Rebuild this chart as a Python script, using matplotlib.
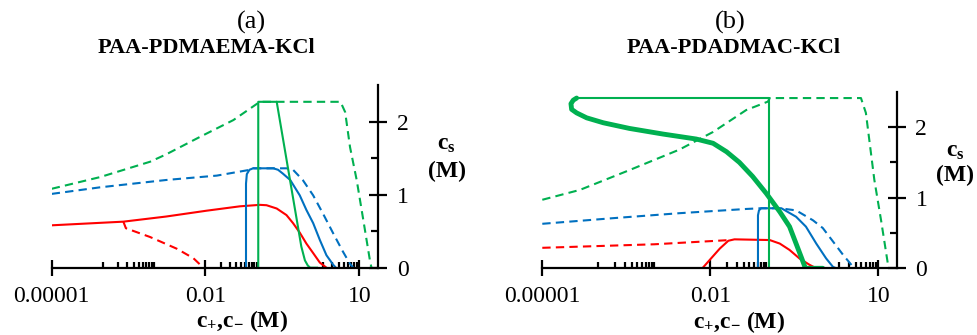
import numpy as np
import matplotlib
matplotlib.use("Agg")
import matplotlib.pyplot as plt
from matplotlib.ticker import FixedLocator, NullFormatter

plt.rcParams['font.family'] = ['Liberation Serif', 'DejaVu Serif']
plt.rcParams['mathtext.fontset'] = 'custom'
plt.rcParams['mathtext.rm'] = 'Liberation Serif'
plt.rcParams['mathtext.bf'] = 'Liberation Serif:bold'
plt.rcParams['mathtext.it'] = 'Liberation Serif:italic'

ROJO = '#FF0000'
AZUL = '#0070C0'
VERDE = '#00B050'

# ---- datos panel (a): PAA-PDMAEMA-KCl ----
a_verde_disc_x = [1e-5, 8.8e-5, 8.3e-4, 1.7e-3, 7.8e-3, 0.035, 0.115, 4.3, 5.3, 6.6, 8.9, 12.0, 16.3, 17.3]
a_verde_disc_y = [1.08, 1.24, 1.45, 1.55, 1.79, 2.02, 2.27, 2.27, 2.13, 1.65, 1.20, 0.65, 0.08, 0.0]

a_verde_x = [0.107, 0.107, 0.245, 0.74, 0.87, 0.99, 1.1, 1.5]
a_verde_y = [0.0, 2.27, 2.27, 0.29, 0.10, 0.03, 0.0, 0.0]

a_azul_disc_x = [1e-5, 8.8e-5, 1.7e-3, 0.0166, 0.074, 0.085, 0.38, 0.51, 0.79, 1.26, 1.96, 3.1, 4.8, 6.5, 7.6]
a_azul_disc_y = [1.01, 1.10, 1.20, 1.26, 1.34, 1.36, 1.36, 1.34, 1.20, 0.99, 0.74, 0.47, 0.22, 0.06, 0.0]

a_azul_x = [0.0617, 0.0617, 0.064, 0.072, 0.085, 0.21, 0.26, 0.32, 0.45, 0.69, 0.93, 1.26, 1.7, 2.29, 3.1, 3.5]
a_azul_y = [0.0, 1.15, 1.28, 1.34, 1.36, 1.36, 1.34, 1.29, 1.20, 0.99, 0.79, 0.61, 0.38, 0.17, 0.04, 0.0]

a_rojo_x = [1e-5, 2.5e-4, 1.7e-3, 0.0105, 0.047, 0.115, 0.155, 0.245, 0.38, 0.51, 0.69, 0.93, 1.26, 1.7, 2.29]
a_rojo_y = [0.58, 0.63, 0.70, 0.78, 0.84, 0.86, 0.855, 0.81, 0.72, 0.61, 0.48, 0.33, 0.20, 0.07, 0.0]

a_rojo_disc_x = [2.5e-4, 2.8e-4, 8.3e-4, 2.75e-3, 5.8e-3, 9.1e-3]
a_rojo_disc_y = [0.63, 0.54, 0.42, 0.26, 0.13, 0.0]

# ---- datos panel (b): PAA-PDADMAC-KCl ----
b_verde_disc_x = [1e-5, 4.7e-5, 3.6e-4, 2.8e-3, 0.0112, 0.0437, 0.107, 0.115, 4.9, 6.0, 8.5, 11.2, 14.9, 15.5]
b_verde_disc_y = [0.97, 1.11, 1.39, 1.68, 1.93, 2.24, 2.36, 2.41, 2.41, 2.20, 1.25, 0.68, 0.05, 0.0]

b_verde_grueso_x = [4.1e-5, 3.57e-5, 3.25e-5, 3.34e-5, 4.1e-5, 6.2e-5, 1.23e-4, 3.6e-4, 1.44e-3, 5.6e-3,
                    0.0112, 0.0195, 0.033, 0.057, 0.1, 0.174, 0.26, 0.34, 0.42, 0.50, 1.02]
b_verde_grueso_y = [2.41, 2.38, 2.33, 2.25, 2.20, 2.13, 2.06, 1.98, 1.90, 1.83,
                    1.77, 1.65, 1.50, 1.30, 1.06, 0.80, 0.59, 0.35, 0.16, 0.0, 0.0]

b_verde_x = [4.1e-5, 0.11, 0.11]
b_verde_y = [2.41, 2.41, 0.0]

b_azul_disc_x = [1e-5, 1.86e-4, 2.8e-3, 0.0437, 0.081, 0.174, 0.34, 0.68, 1.02, 1.55, 2.35, 3.3, 3.76]
b_azul_disc_y = [0.63, 0.71, 0.78, 0.84, 0.85, 0.85, 0.82, 0.68, 0.57, 0.38, 0.19, 0.05, 0.0]

b_azul_x = [0.071, 0.071, 0.074, 0.081, 0.186, 0.34, 0.51, 0.78, 1.17, 1.55, 1.78]
b_azul_y = [0.0, 0.75, 0.82, 0.85, 0.85, 0.73, 0.59, 0.35, 0.14, 0.02, 0.0]

b_rojo_disc_x = [1e-5, 1e-3, 0.0224]
b_rojo_disc_y = [0.29, 0.34, 0.40]

b_rojo_x = [0.0072, 0.0098, 0.0148, 0.021, 0.027, 0.115, 0.174, 0.26, 0.39, 0.59, 0.78]
b_rojo_y = [0.0, 0.12, 0.28, 0.39, 0.41, 0.40, 0.35, 0.26, 0.14, 0.05, 0.0]

x_mayores = [1e-5, 1e-2, 10]
x_etiquetas = ['0.00001', '0.01', '10']
x_menores = [k * 1e-4 for k in range(1, 11)] + [k * 1e-2 for k in range(2, 11)] + [k * 1.0 for k in range(2, 11)]
y_mayores = [0, 1, 2]
y_menores = [0.5, 1.5]

W, H = 977, 335
fig = plt.figure(figsize=(W / 100, H / 100), dpi=100)


def caja(x0, y0, x1, y1):
    # pixeles -> fraccion de figura
    return [x0 / W, 1 - y1 / H, (x1 - x0) / W, (y1 - y0) / H]


def texto(x, y, s, **kw):
    fig.text(x / W, 1 - y / H, s, ha='center', va='center', **kw)


def preparar_ejes(ax, xmax):
    ax.set_xscale('log')
    ax.set_xlim(1e-5, xmax)
    ax.set_ylim(0, 2.5)
    ax.spines['top'].set_visible(False)
    ax.spines['left'].set_visible(False)
    ax.spines['bottom'].set_linewidth(1.6)
    ax.spines['right'].set_linewidth(1.6)
    ax.yaxis.tick_right()
    ax.xaxis.set_major_locator(FixedLocator(x_mayores))
    ax.set_xticklabels(x_etiquetas)
    ax.xaxis.set_minor_locator(FixedLocator(x_menores))
    ax.xaxis.set_minor_formatter(NullFormatter())
    ax.set_yticks(y_mayores)
    ax.set_yticklabels([str(v) for v in y_mayores])
    ax.set_yticks(y_menores, minor=True)
    ax.tick_params(axis='x', which='major', direction='inout', length=12, width=1.6, labelsize=17, pad=7)
    ax.tick_params(axis='x', which='minor', direction='in', length=4, width=1.6)
    ax.tick_params(axis='y', which='major', direction='inout', length=13, width=1.6, labelsize=17, pad=7)
    ax.tick_params(axis='y', which='minor', direction='in', length=5, width=1.6)
    ax.patch.set_alpha(0)


disc = dict(linestyle=(0, (4, 2.5)), lw=1.5)

axA = fig.add_axes(caja(51.7, 85, 378.3, 267.7))
preparar_ejes(axA, 23.5)
axA.plot(a_verde_disc_x, a_verde_disc_y, color=VERDE, **disc)
axA.plot(a_azul_disc_x, a_azul_disc_y, color=AZUL, **disc)
axA.plot(a_rojo_disc_x, a_rojo_disc_y, color=ROJO, **disc)
axA.plot(a_rojo_x, a_rojo_y, color=ROJO, lw=1.5)
axA.plot(a_azul_x, a_azul_y, color=AZUL, lw=1.5)
axA.plot(a_verde_x, a_verde_y, color=VERDE, lw=1.5)

axB = fig.add_axes(caja(542.3, 91.7, 896.7, 268.3))
preparar_ejes(axB, 21.3)
axB.plot(b_verde_disc_x, b_verde_disc_y, color=VERDE, **disc)
axB.plot(b_azul_disc_x, b_azul_disc_y, color=AZUL, **disc)
axB.plot(b_rojo_disc_x, b_rojo_disc_y, color=ROJO, **disc)
axB.plot(b_rojo_x, b_rojo_y, color=ROJO, lw=1.5)
axB.plot(b_azul_x, b_azul_y, color=AZUL, lw=1.5)
axB.plot(b_verde_x, b_verde_y, color=VERDE, lw=1.5)
axB.plot(b_verde_grueso_x, b_verde_grueso_y, color=VERDE, lw=3.5,
         solid_capstyle='round', solid_joinstyle='round')

# titulos y etiquetas
texto(251, 22, '(a)', fontsize=19)
texto(206, 48, 'PAA-PDMAEMA-KCl', fontsize=16, fontweight='bold')
texto(730, 22, '(b)', fontsize=19)
texto(734, 48, 'PAA-PDADMAC-KCl', fontsize=16, fontweight='bold')

etiqueta_x = r'$\mathbf{c}_{\mathbf{+}}$,$\mathbf{c}_{\mathbf{-}}$ (M)'
texto(242, 321, etiqueta_x, fontsize=17, fontweight='bold')
texto(739, 322, etiqueta_x, fontsize=17, fontweight='bold')

texto(446, 145, r'$\mathbf{c}_{\mathbf{s}}$', fontsize=17)
texto(447, 171, '(M)', fontsize=17, fontweight='bold')
texto(955, 151, r'$\mathbf{c}_{\mathbf{s}}$', fontsize=17)
texto(955, 175, '(M)', fontsize=17, fontweight='bold')

fig.savefig('out.png', dpi=100)
